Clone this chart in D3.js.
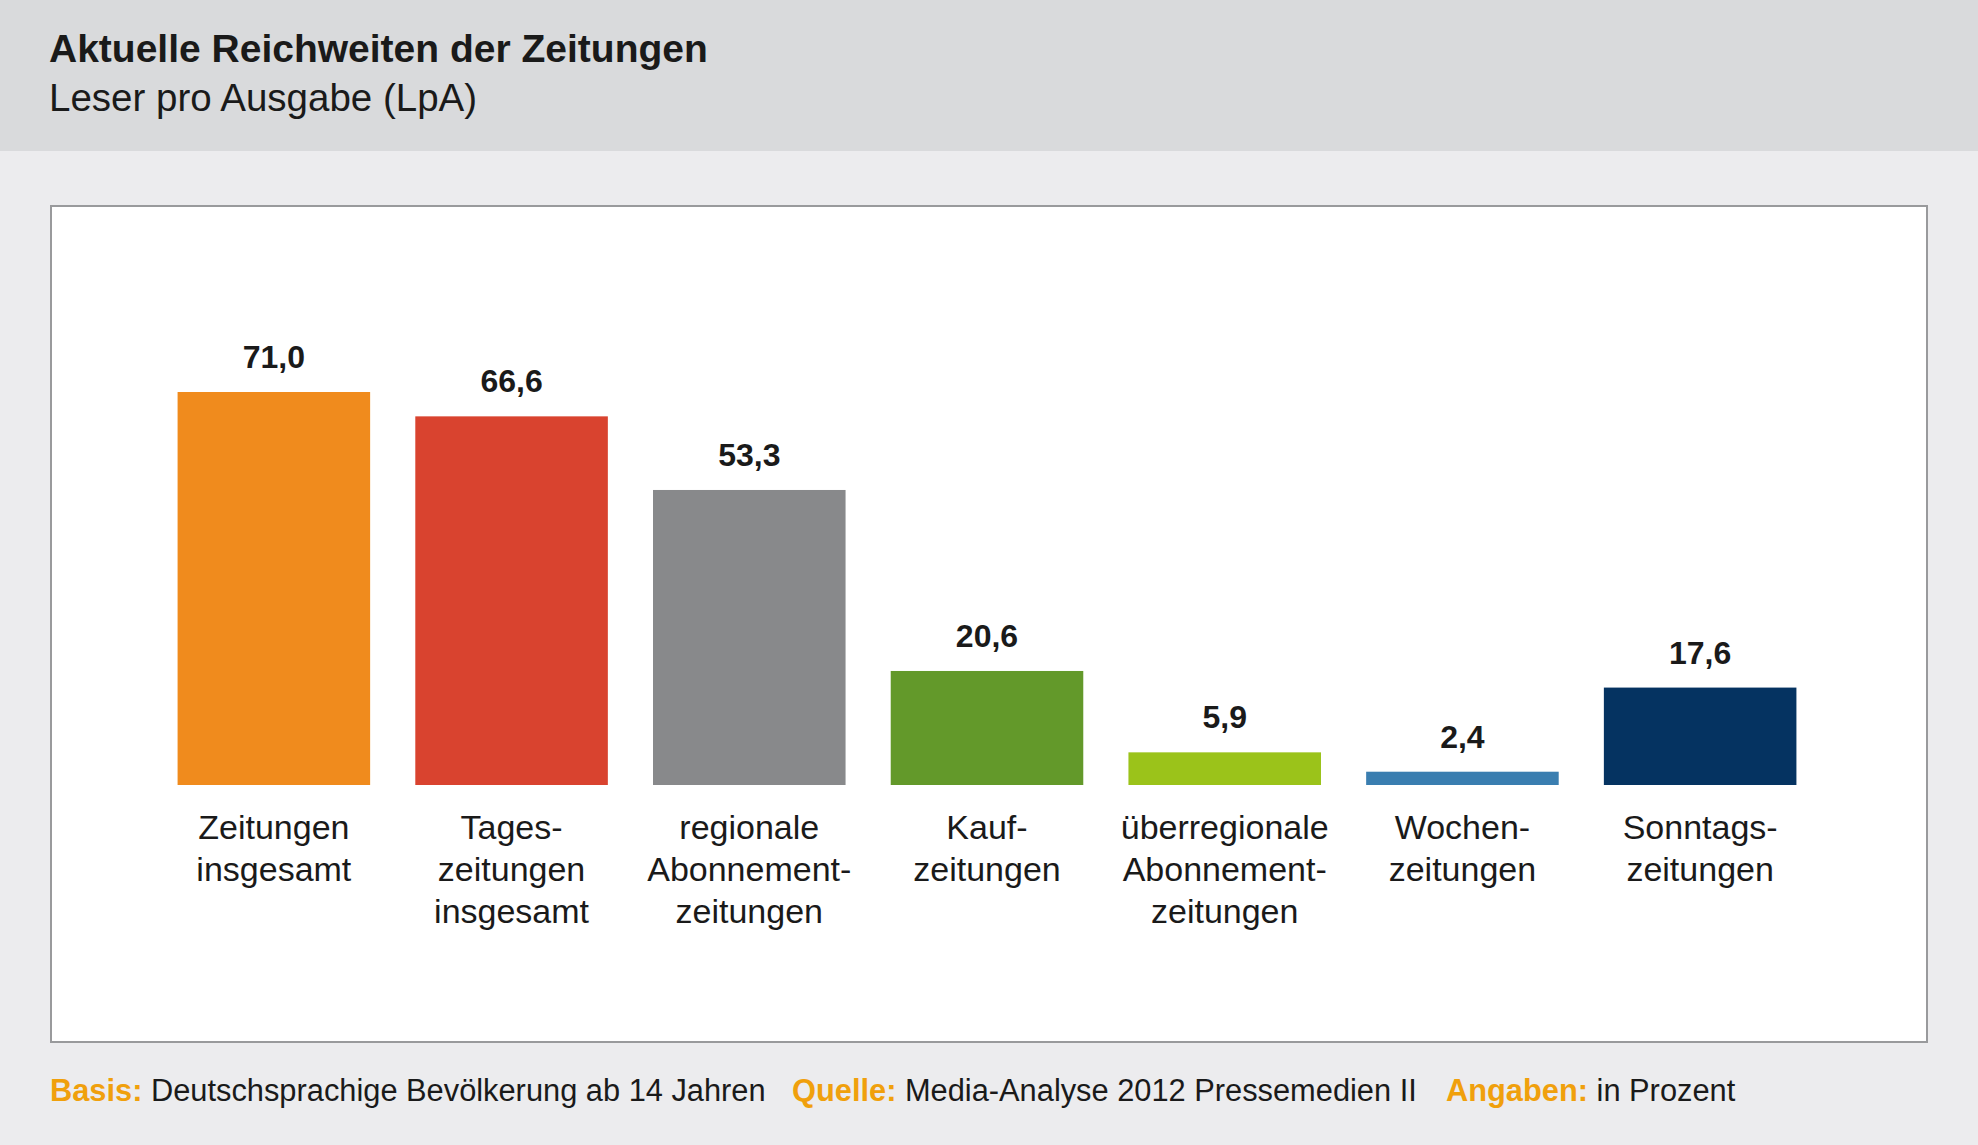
<!DOCTYPE html>
<html>
<head>
<meta charset="utf-8">
<script src="https://cdn.jsdelivr.net/npm/d3@7"></script>
<style>
  html, body { margin: 0; padding: 0; background: #ececee; }
  svg { display: block; }
  text { font-family: "Liberation Sans", Arial, Helvetica, sans-serif; }
</style>
</head>
<body>
<svg id="chart" width="1978" height="1145"></svg>
<script>
const categories = [
  "Zeitungen\ninsgesamt",
  "Tages-\nzeitungen\ninsgesamt",
  "regionale\nAbonnement-\nzeitungen",
  "Kauf-\nzeitungen",
  "überregionale\nAbonnement-\nzeitungen",
  "Wochen-\nzeitungen",
  "Sonntags-\nzeitungen"
];
const values = [71.0, 66.6, 53.3, 20.6, 5.9, 2.4, 17.6];
const colors = ["#f08b1d", "#d9432f", "#88898b", "#63992a", "#9bc31a", "#3a7eb0", "#053361"];
const titleText = "Aktuelle Reichweiten der Zeitungen";
const subtitleText = "Leser pro Ausgabe (LpA)";
const footer = [
  { label: "Basis:", text: "Deutschsprachige Bevölkerung ab 14 Jahren" },
  { label: "Quelle:", text: "Media-Analyse 2012 Pressemedien II" },
  { label: "Angaben:", text: "in Prozent" }
];

const W = 1978, H = 1145;
const svg = d3.select("#chart");

// backgrounds
svg.append("rect").attr("x", 0).attr("y", 0).attr("width", W).attr("height", H).attr("fill", "#ececee");
svg.append("rect").attr("x", 0).attr("y", 0).attr("width", W).attr("height", 151).attr("fill", "#d9dadc");

// header
svg.append("text").attr("x", 49).attr("y", 62)
  .attr("font-size", 39).attr("font-weight", "bold").attr("fill", "#1a1a1a")
  .text(titleText);
svg.append("text").attr("x", 49).attr("y", 111)
  .attr("font-size", 38.5).attr("fill", "#1a1a1a")
  .text(subtitleText);

// plot box
svg.append("rect").attr("x", 51).attr("y", 206).attr("width", 1876).attr("height", 836)
  .attr("fill", "#ffffff").attr("stroke", "#999a9c").attr("stroke-width", 2);

const x = d3.scaleBand().domain(categories).range([155, 1819])
  .paddingInner(0.19).paddingOuter(0.095);
const y = d3.scaleLinear().domain([0, 71]).range([785, 392]);

const fmt = d3.formatLocale({ decimal: ",", thousands: ".", grouping: [3], currency: ["", "€"] }).format(".1f");

const g = svg.append("g");
g.selectAll("rect.bar").data(values).join("rect")
  .attr("class", "bar")
  .attr("x", (d, i) => x(categories[i]))
  .attr("width", x.bandwidth())
  .attr("y", d => y(d))
  .attr("height", d => y(0) - y(d))
  .attr("fill", (d, i) => colors[i]);

g.selectAll("text.val").data(values).join("text")
  .attr("class", "val")
  .attr("x", (d, i) => x(categories[i]) + x.bandwidth() / 2)
  .attr("y", d => y(d) - 24)
  .attr("text-anchor", "middle")
  .attr("font-size", 32).attr("font-weight", "bold").attr("fill", "#1a1a1a")
  .text(d => fmt(d));

const labels = g.selectAll("text.cat").data(categories).join("text")
  .attr("class", "cat")
  .attr("text-anchor", "middle")
  .attr("font-size", 34).attr("fill", "#1a1a1a");
labels.each(function(d) {
  const t = d3.select(this);
  const cx = x(d) + x.bandwidth() / 2;
  d.split("\n").forEach((line, i) => {
    t.append("tspan").attr("x", cx).attr("y", 839 + i * 42).text(line);
  });
});

// footer
const footerX = [50, 792, 1446];
footer.forEach((f, i) => {
  const t = svg.append("text").attr("x", footerX[i]).attr("y", 1101).attr("font-size", 30.8);
  t.append("tspan").attr("font-weight", "bold").attr("fill", "#f0a00c").text(f.label);
  t.append("tspan").attr("fill", "#1a1a1a").text(" " + f.text);
});
</script>
</body>
</html>
